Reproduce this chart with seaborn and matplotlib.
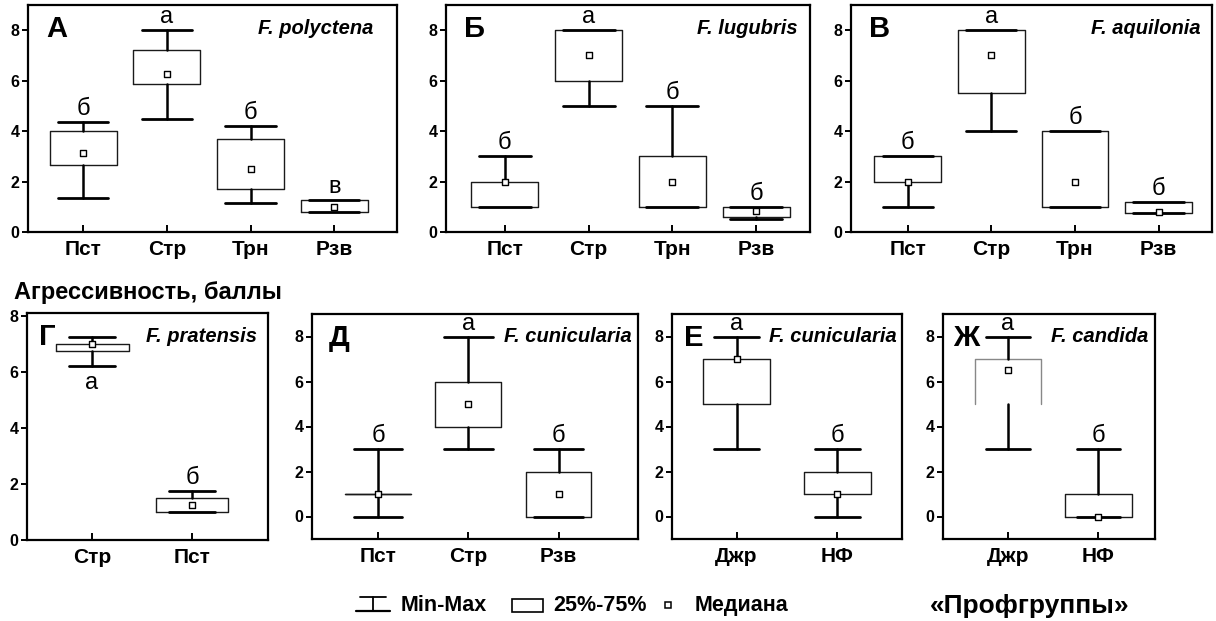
import matplotlib
matplotlib.use("Agg")
import matplotlib.pyplot as plt
import seaborn as sns
from matplotlib.patches import Rectangle

# ---------------- data: min, quartiles, median, max per group ----------------
# А — F. polyctena
a_groups = ["Пст", "Стр", "Трн", "Рзв"]
a_min = [1.33, 4.5, 1.15, 0.8]
a_q1 = [2.65, 5.85, 1.7, 0.8]
a_med = [3.15, 6.25, 2.5, 1.0]
a_q3 = [4.0, 7.2, 3.7, 1.25]
a_max = [4.35, 8.0, 4.2, 1.27]
a_sig = ["б", "а", "б", "в"]

# Б — F. lugubris
b_groups = ["Пст", "Стр", "Трн", "Рзв"]
b_min = [1.0, 5.0, 1.0, 0.5]
b_q1 = [1.0, 6.0, 1.0, 0.6]
b_med = [2.0, 7.0, 2.0, 0.85]
b_q3 = [2.0, 8.0, 3.0, 1.0]
b_max = [3.0, 8.0, 5.0, 1.0]
b_sig = ["б", "а", "б", "б"]

# В — F. aquilonia
v_groups = ["Пст", "Стр", "Трн", "Рзв"]
v_min = [1.0, 4.0, 1.0, 0.75]
v_q1 = [2.0, 5.5, 1.0, 0.75]
v_med = [2.0, 7.0, 2.0, 0.8]
v_q3 = [3.0, 8.0, 4.0, 1.2]
v_max = [3.0, 8.0, 4.0, 1.2]
v_sig = ["б", "а", "б", "б"]

# Г — F. pratensis
g_groups = ["Стр", "Пст"]
g_min = [6.2, 1.0]
g_q1 = [6.75, 1.0]
g_med = [7.0, 1.25]
g_q3 = [7.0, 1.5]
g_max = [7.25, 1.75]
g_sig = ["а", "б"]
g_sig_below = [True, False]

# Д — F. cunicularia
d_groups = ["Пст", "Стр", "Рзв"]
d_min = [0.0, 3.0, 0.0]
d_q1 = [1.0, 4.0, 0.0]
d_med = [1.0, 5.0, 1.0]
d_q3 = [1.0, 6.0, 2.0]
d_max = [3.0, 8.0, 3.0]
d_sig = ["б", "а", "б"]

# Е — F. cunicularia
e_groups = ["Джр", "НФ"]
e_min = [3.0, 0.0]
e_q1 = [5.0, 1.0]
e_med = [7.0, 1.0]
e_q3 = [7.0, 2.0]
e_max = [8.0, 3.0]
e_sig = ["а", "б"]

# Ж — F. candida
zh_groups = ["Джр", "НФ"]
zh_min = [3.0, 0.0]
zh_q1 = [5.0, 0.0]
zh_med = [6.5, 0.0]
zh_q3 = [7.0, 1.0]
zh_max = [8.0, 3.0]
zh_sig = ["а", "б"]

yticks = [0, 2, 4, 6, 8]

# ---------------- style ----------------
sns.set_style("ticks")
plt.rcParams["font.family"] = ["Liberation Sans", "DejaVu Sans"]
plt.rcParams["font.weight"] = "bold"
plt.rcParams["axes.linewidth"] = 1.6
for key in ("text.color", "axes.labelcolor", "xtick.color", "ytick.color",
            "axes.edgecolor"):
    plt.rcParams[key] = "black"

W, H = 1216, 621
fig = plt.figure(figsize=(W / 100, H / 100), dpi=100)


def px_axes(x0, x1, y0, y1):
    return fig.add_axes([x0 / W, 1 - y1 / H, (x1 - x0) / W, (y1 - y0) / H])


def panel(ax, groups, mins, q1s, meds, q3s, maxs, sig, letter, species,
          xlim, ylim, box_w, cap_w, sig_below=None, open_bottom=None,
          species_x=0.97):
    pos = list(range(len(groups)))
    stats = [dict(whislo=lo, q1=a, med=m, q3=b, whishi=hi, fliers=[])
             for lo, a, m, b, hi in zip(mins, q1s, meds, q3s, maxs)]
    art = ax.bxp(stats, positions=pos, widths=box_w, capwidths=cap_w,
                 showfliers=False,
                 boxprops=dict(color="#1a1a1a", linewidth=1.0),
                 whiskerprops=dict(color="black", linewidth=1.8),
                 capprops=dict(color="black", linewidth=2.0),
                 medianprops=dict(linewidth=0))
    if open_bottom is not None:
        for i, flag in enumerate(open_bottom):
            if flag:
                bx = art["boxes"][i]
                xs, ys = bx.get_xdata(), bx.get_ydata()
                bx.set_data([xs[0], xs[3], xs[2], xs[1]],
                            [ys[0], ys[3], ys[2], ys[1]])
                bx.set_color("#888888")
    sns.scatterplot(x=pos, y=meds, marker="s", s=22, color="white",
                    edgecolor="black", linewidth=1.0, ax=ax, zorder=5,
                    legend=False)
    for i, s in enumerate(sig):
        if sig_below is not None and sig_below[i]:
            ax.annotate(s, (pos[i], mins[i]), xytext=(0, -4),
                        textcoords="offset points", ha="center", va="top",
                        fontsize=17, fontweight="normal")
        else:
            ax.annotate(s, (pos[i], maxs[i]), xytext=(0, 5),
                        textcoords="offset points", ha="center",
                        va="baseline", fontsize=17, fontweight="normal")
    ax.set_xlim(*xlim)
    ax.set_ylim(*ylim)
    ax.set_yticks(yticks)
    ax.set_xticks(pos)
    ax.set_xticklabels(groups, fontsize=15, fontweight="bold")
    ax.tick_params(axis="y", direction="out", length=4, width=1.4, pad=2,
                   labelsize=11.5)
    ax.tick_params(axis="x", direction="in", length=5, width=1.4, pad=6)
    for lab in ax.get_yticklabels():
        lab.set_fontweight("bold")
    for sp in ax.spines.values():
        sp.set_visible(True)
        sp.set_linewidth(1.6)
        sp.set_color("black")
    ax.text(0.05, 0.955, letter, transform=ax.transAxes, ha="left", va="top",
            fontsize=21, fontweight="bold")
    ax.text(species_x, 0.94, species, transform=ax.transAxes, ha="right",
            va="top", fontsize=14.5, fontweight="bold", style="italic")


ax_a = px_axes(28, 397, 5, 232)
panel(ax_a, a_groups, a_min, a_q1, a_med, a_q3, a_max, a_sig, "А",
      "F. polyctena", (-0.66, 3.75), (0, 9), 0.8, 0.6, species_x=0.935)

ax_b = px_axes(446, 810, 5, 232)
panel(ax_b, b_groups, b_min, b_q1, b_med, b_q3, b_max, b_sig, "Б",
      "F. lugubris", (-0.70, 3.64), (0, 9), 0.8, 0.62, species_x=0.965)

ax_v = px_axes(851, 1212, 5, 232)
panel(ax_v, v_groups, v_min, v_q1, v_med, v_q3, v_max, v_sig, "В",
      "F. aquilonia", (-0.68, 3.64), (0, 9), 0.8, 0.6, species_x=0.968)

ax_g = px_axes(27, 268, 313, 540)
panel(ax_g, g_groups, g_min, g_q1, g_med, g_q3, g_max, g_sig, "Г",
      "F. pratensis", (-0.65, 1.76), (0, 8.1), 0.73, 0.46,
      sig_below=g_sig_below, species_x=0.955)

ax_d = px_axes(312, 638, 314, 539)
panel(ax_d, d_groups, d_min, d_q1, d_med, d_q3, d_max, d_sig, "Д",
      "F. cunicularia", (-0.73, 2.88), (-1, 9), 0.73, 0.54,
      species_x=0.98)

ax_e = px_axes(672, 902, 314, 539)
panel(ax_e, e_groups, e_min, e_q1, e_med, e_q3, e_max, e_sig, "Е",
      "F. cunicularia", (-0.64, 1.64), (-1, 9), 0.66, 0.44,
      species_x=0.976)

ax_zh = px_axes(943, 1155, 314, 539)
panel(ax_zh, zh_groups, zh_min, zh_q1, zh_med, zh_q3, zh_max, zh_sig, "Ж",
      "F. candida", (-0.72, 1.63), (-1, 9), 0.74, 0.48,
      open_bottom=[True, False], species_x=0.967)

# shared y-axis title
fig.text(14 / W, 1 - 293 / H, "Агрессивность, баллы", ha="left",
         va="center", fontsize=17, fontweight="bold")

# ---------------- legend strip along the bottom ----------------
leg = fig.add_axes([0, 0, 1, 1], zorder=-1)
leg.set_xlim(0, W)
leg.set_ylim(H, 0)
leg.axis("off")
base = 611
leg.plot([360, 386], [597, 597], color="black", lw=1.3)
leg.plot([373, 373], [597, 611], color="black", lw=1.3)
leg.plot([356, 390], [611, 611], color="black", lw=1.6)
leg.text(401, base, "Min-Max", ha="left", va="baseline", fontsize=15.5,
         fontweight="bold")
leg.add_patch(Rectangle((512, 599), 31, 13, facecolor="white",
                        edgecolor="black", lw=1.2))
leg.text(553, base, "25%-75%", ha="left", va="baseline", fontsize=15.5,
         fontweight="bold")
leg.plot([668], [605], marker="s", ms=5, mfc="white", mec="black",
         mew=1.1)
leg.text(695, base, "Медиана", ha="left", va="baseline", fontsize=15.5,
         fontweight="bold")
fig.text(1030 / W, 1 - 613 / H, "«Профгруппы»", ha="center",
         va="baseline", fontsize=19, fontweight="bold")

fig.savefig("out.png", dpi=100)
